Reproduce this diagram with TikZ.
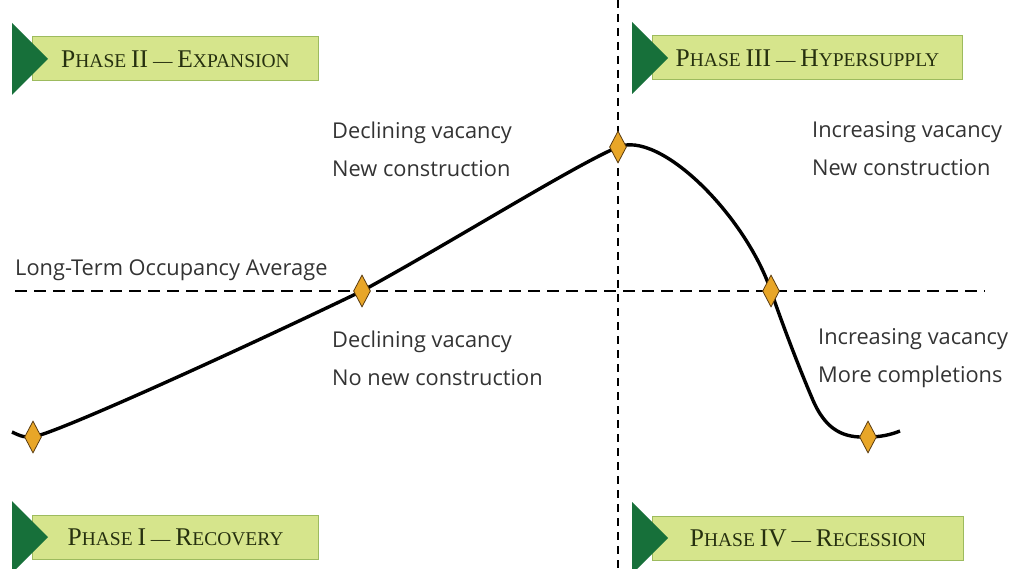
\documentclass[tikz,border=0pt]{standalone}
\usepackage{fontspec}
\setsansfont{Open Sans}
\newfontfamily\phasefont{Liberation Serif}
\usetikzlibrary{shapes.geometric}

\definecolor{bannerfill}{HTML}{D6E58C}
\definecolor{bannerline}{HTML}{9DBB5E}
\definecolor{bannertip}{HTML}{17703A}
\definecolor{markfill}{HTML}{E8A628}
\definecolor{markline}{HTML}{5A3C12}
\definecolor{labeltext}{HTML}{333333}
\definecolor{phasetext}{HTML}{26300F}

% tall capital inside a phase title
\newcommand\capl[1]{{\fontsize{25.5}{28}\selectfont #1}}

\begin{document}
\begin{tikzpicture}[
    x		= 1pt,
    y		= -1pt,
    phase/.style	= {draw=bannerline, line width=1pt, fill=bannerfill, anchor=west,
                   minimum height=44pt, text=phasetext,
                   font=\phasefont\fontsize{19.5}{24}\selectfont},
    marker/.style	= {diamond, draw=markline, fill=markfill, line width=0.8pt,
                   inner sep=0pt, minimum width=17pt, minimum height=32pt},
    note/.style	= {anchor=west, align=left, inner sep=0pt, text=labeltext,
                   font=\sffamily\fontsize{21.8}{38}\selectfont},
    guide/.style	= {line width=2pt, dash pattern=on 12pt off 7pt},
    cycleline/.style	= {line width=3.4pt}
  ]
\useasboundingbox (0,0) rectangle (1009,569);
% guide lines
\coordinate (hl) at (15,291);
\coordinate (hr) at (985,291);
\coordinate (vt) at (618,0);
\coordinate (vb) at (618,569);
\draw[guide] (hl) -- (hr);
\draw[guide, dash pattern=on 8pt off 6pt, line width=2.4pt] (vt) -- (vb);
% the cycle
\coordinate (c0) at (12,432);
\coordinate (p1) at (33,437);
\coordinate (p2) at (362,291);
\coordinate (p3) at (618,147);
\coordinate (p4) at (771,291);
\coordinate (cm) at (812,398);
\coordinate (p5) at (868,437);
\coordinate (ce) at (900,431);
\draw[cycleline] (c0) .. controls (20,436) and (26,438) .. (p1)
  .. controls (60,432) and (250,345) .. (p2)
  .. controls (450,243) and (575,165) .. (p3)
  .. controls (660,130) and (745,215) .. (p4)
  .. controls (783,326) and (800,370) .. (cm)
  .. controls (826,432) and (845,438) .. (p5)
  .. controls (880,437) and (890,435) .. (ce);
\foreach \p in {p1,p2,p3,p4,p5}
  \node[marker] (m\p) at (\p) {};
% notes
\node[note] (dec1) at (332,149) {Declining vacancy\\New construction};
\node[note] (inc1) at (812,149) {Increasing vacancy\\New construction};
\node[note] (avg) at (15,270) {Long-Term Occupancy Average};
\node[note] (dec2) at (332,358) {Declining vacancy\\No new construction};
\node[note] (inc2) at (818,358) {Increasing vacancy\\More completions};
% phase banners
\node[phase, minimum width=286pt] (ph2) at (32,59) {\capl{P}HASE \capl{II} \textemdash{} \capl{E}XPANSION};
\node[phase, minimum width=310pt] (ph3) at (652,58) {\capl{P}HASE \capl{III} \textemdash{} \capl{H}YPERSUPPLY};
\node[phase, minimum width=286pt] (ph1) at (32,537) {\capl{P}HASE \capl{I} \textemdash{} \capl{R}ECOVERY};
\node[phase, minimum width=311pt] (ph4) at (652,538) {\capl{P}HASE \capl{IV} \textemdash{} \capl{R}ECESSION};
\foreach \p in {ph1,ph2,ph3,ph4}
  \fill[bannertip] ([xshift=-20pt,yshift=36pt]\p.west) -- ([xshift=16pt]\p.west)
    -- ([xshift=-20pt,yshift=-36pt]\p.west) -- cycle;
%
\end{tikzpicture}
\end{document}
